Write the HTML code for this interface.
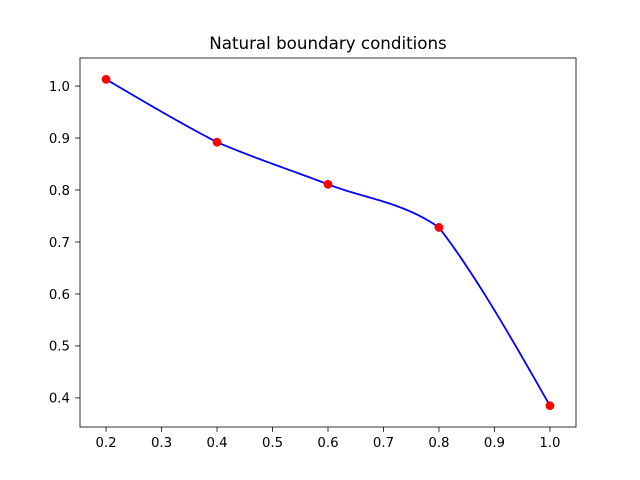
<!DOCTYPE html>
<html><head><meta charset="utf-8"><style>
body{margin:0;background:#fff;}
svg{display:block;font-family:"DejaVu Sans","Liberation Sans",sans-serif;}
</style></head><body>
<svg id="chart" width="640" height="480">
<rect width="640" height="480" fill="#fff"/>
<text x="328" y="49" font-size="16.7" text-anchor="middle">Natural boundary conditions</text>
<g id="plot"></g>
</svg>
<script>
const xData = [0.2, 0.4, 0.6, 0.8, 1.0];
const yData = [1.013, 0.892, 0.811, 0.728, 0.385];
const xTicks = [0.2, 0.3, 0.4, 0.5, 0.6, 0.7, 0.8, 0.9, 1.0];
const yTicks = [0.4, 0.5, 0.6, 0.7, 0.8, 0.9, 1.0];

const L = 80, R = 576, T = 58, B = 427;
const xMin = 0.153, xMax = 1.047, yMin = 0.344, yMax = 1.054;
const sx = v => L + (v - xMin) / (xMax - xMin) * (R - L);
const sy = v => B - (v - yMin) / (yMax - yMin) * (B - T);
const NS = "http://www.w3.org/2000/svg";
const g = document.getElementById('plot');
function mk(tag, attrs) { const e = document.createElementNS(NS, tag); for (const k in attrs) e.setAttribute(k, attrs[k]); g.appendChild(e); return e; }

// Per-segment Hermite slopes weighted toward each segment's own secant
const n = xData.length;
const sec = [];
for (let i = 0; i < n - 1; i++) sec.push((yData[i + 1] - yData[i]) / (xData[i + 1] - xData[i]));
const mStart = [], mEnd = [];
for (let j = 0; j < n - 1; j++) {
  mStart[j] = j > 0 ? (sec[j - 1] + 3 * sec[j]) / 4 : null;
  mEnd[j] = j < n - 2 ? (3 * sec[j] + sec[j + 1]) / 4 : null;
}
mStart[0] = (3 * sec[0] - mEnd[0]) / 2;
mEnd[n - 2] = (3 * sec[n - 2] - mStart[n - 2]) / 2;
let pts = [];
for (let j = 0; j < n - 1; j++) {
  const h = xData[j + 1] - xData[j];
  for (let k = 0; k <= 40; k++) {
    const t = k / 40, t2 = t * t, t3 = t2 * t;
    const y = (2 * t3 - 3 * t2 + 1) * yData[j] + (t3 - 2 * t2 + t) * h * mStart[j] + (-2 * t3 + 3 * t2) * yData[j + 1] + (t3 - t2) * h * mEnd[j];
    pts.push(sx(xData[j] + t * h).toFixed(2) + ',' + sy(y).toFixed(2));
  }
}
const line = mk('polyline', { points: pts.join(' '), fill: 'none', stroke: '#0000ff', 'stroke-width': 1.8 });



xData.forEach((x, i) => {
  const p = mk('circle', { cx: sx(x), cy: sy(yData[i]), r: 4.4, fill: '#ff0000' });
  
  
});

const frame = mk('rect', { x: L, y: T, width: R - L, height: B - T, fill: 'none', stroke: '#000', 'stroke-width': 0.8 });



xTicks.forEach(v => {
  const x = sx(v);
  const t = mk('line', { x1: x, x2: x, y1: B, y2: B + 4.9, stroke: '#000', 'stroke-width': 0.8 });
  
  
  const lb = mk('text', { x: x, y: 447, 'font-size': 13.3, 'text-anchor': 'middle' });
  lb.textContent = v.toFixed(1);
  
  
});
yTicks.forEach(v => {
  const y = sy(v);
  const t = mk('line', { x1: L - 4.9, x2: L, y1: y, y2: y, stroke: '#000', 'stroke-width': 0.8 });
  
  
  const lb = mk('text', { x: 70, y: y + 4.8, 'font-size': 13.3, 'text-anchor': 'end' });
  lb.textContent = v.toFixed(1);
  
  
});
</script>
</body></html>
